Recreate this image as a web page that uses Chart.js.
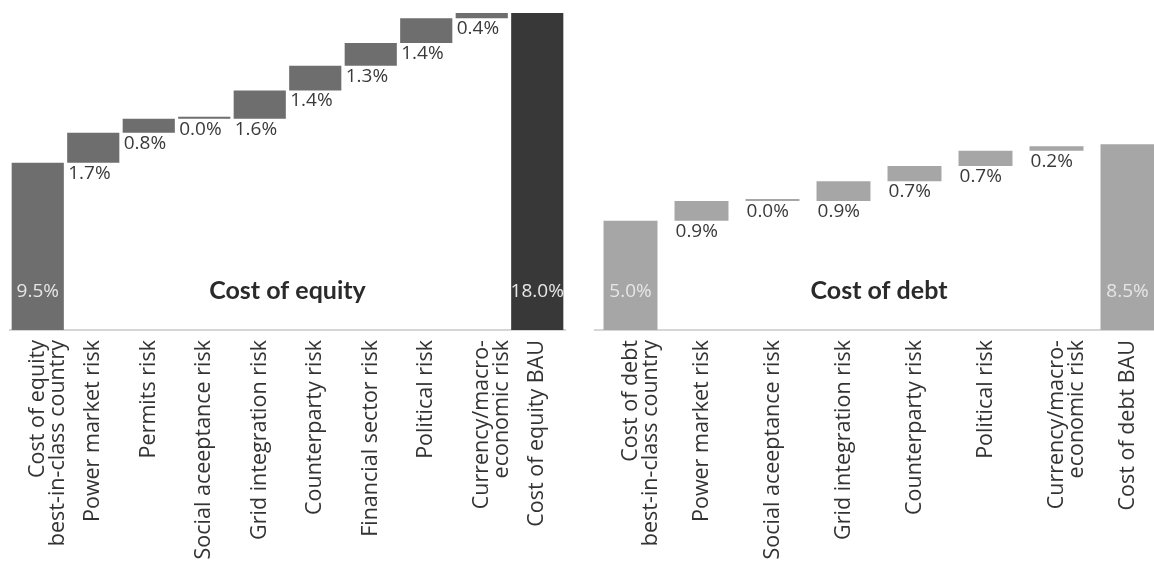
<!DOCTYPE html>
<html>
<head>
<meta charset="utf-8">
<script src="https://cdn.jsdelivr.net/npm/chart.js@4.4.1/dist/chart.umd.min.js"></script>
<style>
  html, body { margin: 0; padding: 0; background: #ffffff; }
  #wrap { position: relative; width: 1154px; height: 565px; overflow: hidden; }
  .box { position: absolute; top: 0; height: 565px; }
  #leftBox { left: 0; width: 577px; }
  #rightBox { left: 577px; width: 586px; }
</style>
</head>
<body>
<div id="wrap">
  <div class="box" id="leftBox"><canvas id="eq"></canvas></div>
  <div class="box" id="rightBox"><canvas id="debt"></canvas></div>
</div>
<script>
const equityCategories = [["Cost of equity", "best-in-class country"], "Power market risk", "Permits risk", "Social aceeptance risk", "Grid integration risk", "Counterparty risk", "Financial sector risk", "Political risk", ["Currency/macro-", "economic risk"], "Cost of equity BAU"];
const equityValues = [9.5, 1.7, 0.8, 0.0, 1.6, 1.4, 1.3, 1.4, 0.4, 18.0];
const equityTitle = "Cost of equity";

const debtCategories = [["Cost of debt", "best-in-class country"], "Power market risk", "Social aceeptance risk", "Grid integration risk", "Counterparty risk", "Political risk", ["Currency/macro-", "economic risk"], "Cost of debt BAU"];
const debtValues = [5.0, 0.9, 0.0, 0.9, 0.7, 0.7, 0.2, 8.5];
const debtTitle = "Cost of debt";

const FONT = "'Open Sans', Lato, sans-serif";
const TITLE_FONT = "Lato, 'Open Sans', sans-serif";

function waterfall(values) {
  const out = [];
  let cum = 0;
  values.forEach((v, i) => {
    if (i === 0) { out.push([0, v]); cum = v; }
    else if (i === values.length - 1) { out.push([0, v]); }
    else { out.push([cum, cum + v]); cum += v; }
  });
  return out;
}

const labelPlugin = {
  id: 'wfLabels',
  afterDatasetsDraw(chart, args, opts) {
    const ctx = chart.ctx;
    const meta = chart.getDatasetMeta(0);
    const vals = opts.values;
    const last = vals.length - 1;
    const y0 = chart.scales.y.getPixelForValue(0);
    ctx.save();
    ctx.font = "19px " + FONT;
    meta.data.forEach((bar, i) => {
      const p = bar.getProps(['x', 'y', 'base', 'width'], true);
      const left = p.x - p.width / 2;
      const txt = vals[i].toFixed(1) + '%';
      if (i === 0 || i === last) {
        ctx.fillStyle = '#e6e6e6';
        ctx.textAlign = 'center';
        ctx.textBaseline = 'middle';
        ctx.fillText(txt, p.x, y0 - 38);
      } else {
        ctx.fillStyle = '#3a3a3a';
        ctx.textAlign = 'left';
        ctx.textBaseline = 'top';
        ctx.fillText(txt, left + 1, Math.max(p.y, p.base) + 1);
      }
    });
    const ca = chart.chartArea;
    ctx.font = "bold 25px " + TITLE_FONT;
    ctx.fillStyle = '#2a2a2a';
    ctx.textAlign = 'center';
    ctx.textBaseline = 'middle';
    ctx.fillText(opts.title, (ca.left + ca.right) / 2, y0 - 39);
    ctx.restore();
  }
};

function makeChart(id, cats, vals, title, colors, yMax, pad, barPct) {
  return new Chart(document.getElementById(id), {
    type: 'bar',
    data: {
      labels: cats,
      datasets: [{
        data: waterfall(vals),
        backgroundColor: colors,
        borderWidth: 0,
        minBarLength: 2,
        categoryPercentage: 1.0,
        barPercentage: barPct
      }]
    },
    options: {
      responsive: true,
      maintainAspectRatio: false,
      animation: false,
      layout: { padding: pad },
      plugins: {
        legend: { display: false },
        tooltip: { enabled: false },
        wfLabels: { values: vals, title: title }
      },
      scales: {
        x: {
          grid: { display: false, drawTicks: false },
          border: { display: true, color: '#d6d6d6', width: 2 },
          ticks: {
            autoSkip: false,
            minRotation: 90,
            maxRotation: 90,
            padding: 10,
            color: '#333333',
            font: { family: FONT, size: 21.5, lineHeight: 0.93 }
          },
          afterFit(axis) { axis.height = 235; }
        },
        y: {
          display: false,
          min: 0,
          max: yMax
        }
      }
    },
    plugins: [labelPlugin]
  });
}

const eqColors = equityValues.map((v, i) => i === equityValues.length - 1 ? '#383838' : '#6e6e6e');
const debtColors = debtValues.map(() => '#a6a6a6');

makeChart('eq', equityCategories, equityValues, equityTitle, eqColors, 18.0, { top: 13, left: 10, right: 12, bottom: 0 }, 0.94);
makeChart('debt', debtCategories, debtValues, debtTitle, debtColors, 14.5, { top: 13, left: 18, right: 0, bottom: 0 }, 0.76);
</script>
</body>
</html>
